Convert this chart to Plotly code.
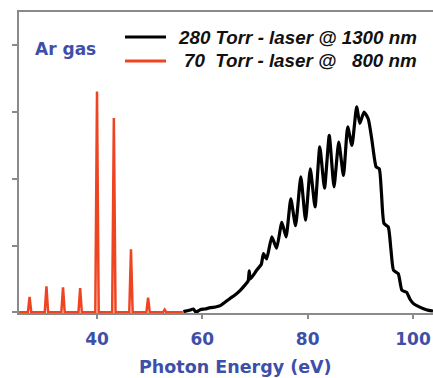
import plotly.graph_objects as go

# ---- data ----
x_tick_vals = [40, 60, 80, 100]
x_tick_text = ["40", "60", "80", "100"]
y_tick_vals = [0, 1, 2, 3, 4]

# 70 Torr, 800 nm : harmonic peaks (eV, arbitrary units)
red_peak_ev = [27.2, 30.4, 33.55, 36.8, 40.0, 43.2, 46.45, 49.7, 52.85]
red_peak_h = [0.23, 0.39, 0.375, 0.365, 3.31, 2.91, 0.945, 0.22, 0.04]
red_start_ev = 25.2
red_end_ev = 56.3
red_peak_halfwidth = 0.32

# 280 Torr, 1300 nm : continuous-ish spectrum
black_ev = [56.4, 57.5, 58.3, 58.8, 59.6, 60.5, 61.5, 62.5, 63.4, 64.3, 65.3,
            66.2, 67.2, 68.0, 68.7, 68.9, 69.1, 69.8, 70.3, 71.2, 71.6, 72.2,
            73.2, 74.1, 75.1, 75.9, 76.8, 77.7, 78.7, 79.6, 80.5, 81.4, 82.3,
            83.2, 84.1, 85.0, 85.9, 86.8, 87.6, 88.4, 89.3, 89.9, 90.7, 91.5,
            92.2, 93.0, 93.6, 94.0, 94.5, 95.3, 95.8, 96.3, 97.2, 97.9, 98.8,
            99.4, 100.1, 101.0, 102.0, 103.0, 103.8]
black_val = [0.01, 0.03, 0.05, 0.0, 0.04, 0.05, 0.07, 0.08, 0.10, 0.15, 0.21,
             0.26, 0.33, 0.40, 0.47, 0.62, 0.50, 0.57, 0.63, 0.72, 0.88, 0.80,
             1.13, 0.96, 1.35, 1.13, 1.70, 1.30, 2.03, 1.38, 2.15, 1.58, 2.48,
             1.86, 2.65, 1.88, 2.55, 2.05, 2.78, 2.50, 3.08, 2.83, 3.00, 2.90,
             2.58, 2.18, 2.15, 1.80, 1.33, 1.28, 0.95, 0.63, 0.58, 0.33, 0.30,
             0.20, 0.13, 0.09, 0.055, 0.03, 0.02]

legend_black = "280 Torr - laser @ 1300 nm"
legend_red = "70\u00a0\u00a0Torr - laser @ \u00a0\u00a0800 nm"
gas_label = "Ar gas"
x_title = "Photon Energy (eV)"

# ---- build red polyline from peak table ----
red_x = [red_start_ev]
red_y = [0.0]
for c, h in zip(red_peak_ev, red_peak_h):
    red_x += [c - red_peak_halfwidth, c, c + red_peak_halfwidth]
    red_y += [0.0, h, 0.0]
red_x.append(red_end_ev)
red_y.append(0.0)

BLUE = "#3d4fa8"
RED = "#ee4422"
GRAY = "#8a8a8a"

W, H = 433, 378
# plot area in page pixels: left 19, top 12, bottom 313, right = window edge
ML = 19
MT = 12
MB = H - 313
MR = 0
PW, PH = W - ML - MR, H - MT - MB


def px(x):  # page pixel -> paper
    return (x - ML) / PW


def py(y):
    return (313 - y) / PH


fig = go.Figure()
fig.add_trace(go.Scatter(x=red_x, y=red_y, mode="lines",
                         line=dict(color=RED, width=2.5), showlegend=False))
fig.add_trace(go.Scatter(x=black_ev, y=black_val, mode="lines",
                         line=dict(color="black", width=3.2, shape="spline",
                                   smoothing=0.5),
                         showlegend=False))

fig.update_layout(
    width=W, height=H,
    margin=dict(l=ML, r=MR, t=MT, b=MB),
    paper_bgcolor="white", plot_bgcolor="white",
    showlegend=False,
    xaxis=dict(range=[25.19, 100 + (433 - 413) / 5.267], tickvals=x_tick_vals,
               ticktext=x_tick_text,
               showgrid=False, zeroline=False, showline=True, linecolor=GRAY,
               linewidth=2, mirror=True, ticks="outside", ticklen=4,
               tickcolor=GRAY, tickwidth=1.5, ticklabelstandoff=6,
               tickfont=dict(family="DejaVu Sans", size=17, color=BLUE,
                             weight="bold")),
    yaxis=dict(range=[-0.01, 4.5], tickvals=y_tick_vals, showticklabels=False,
               showgrid=False, zeroline=False, showline=True, linecolor=GRAY,
               linewidth=2, ticks="outside", ticklen=5, tickcolor=GRAY,
               tickwidth=1.5),
)

# x-axis title
fig.add_annotation(x=px(235), y=py(367), xref="paper", yref="paper",
                   text="<b>" + x_title + "</b>", showarrow=False,
                   xanchor="center", yanchor="middle",
                   font=dict(family="DejaVu Sans", size=17.5, color=BLUE))
# gas label
fig.add_annotation(x=px(33), y=py(49), xref="paper", yref="paper",
                   text="<b>" + gas_label + "</b>", showarrow=False,
                   xanchor="left", yanchor="middle",
                   font=dict(family="DejaVu Sans", size=17, color=BLUE))
# legend entries
for txt, yy, col in [(legend_black, 37, "black"), (legend_red, 61, RED)]:
    fig.add_shape(type="line", xref="paper", yref="paper",
                  x0=px(125), x1=px(166), y0=py(yy), y1=py(yy),
                  line=dict(color=col, width=3))
    fig.add_annotation(x=px(419), y=py(yy), xref="paper", yref="paper",
                       text="<b><i>" + txt + "</i></b>", showarrow=False,
                       xanchor="right", yanchor="middle",
                       font=dict(family="Liberation Sans", size=18.8, color="#111111"))

fig.write_html(
    "out.html",
    config={"displayModeBar": False},
    post_script="document.body.style.margin='0';"
                "document.body.style.overflow='hidden';",
)
